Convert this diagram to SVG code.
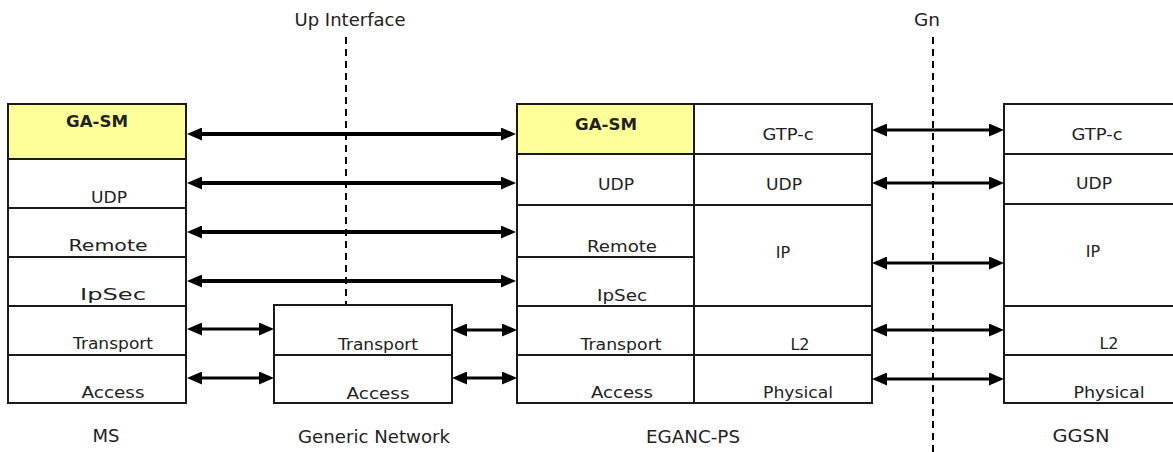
<svg xmlns="http://www.w3.org/2000/svg" width="1173" height="452" viewBox="0 0 1173 452">
<style>
.cell{fill:#fff;stroke:#1a1a1a;stroke-width:2}
.hl{fill:#FFFF99}
.t{font-family:"DejaVu Sans","Liberation Sans",sans-serif;font-size:16px;fill:#222;text-anchor:middle}
.b{font-weight:bold;font-size:15px}
.lbl{font-family:"DejaVu Sans","Liberation Sans",sans-serif;font-size:17px;fill:#222;text-anchor:middle}
.arr{stroke:#000;stroke-width:3;fill:none;marker-start:url(#ah);marker-end:url(#ah)}
.thick{stroke-width:4}
.dash{stroke:#000;stroke-width:2;stroke-dasharray:7 5;fill:none}
</style>
<defs>
<marker id="ah" markerUnits="userSpaceOnUse" markerWidth="15" markerHeight="13" viewBox="0 0 15 13" refX="4" refY="6.5" orient="auto-start-reverse">
<path d="M0,0 L15,6.5 L0,13 z" fill="#000"/>
</marker>
</defs>
<rect width="1173" height="452" fill="#fff"/>

<g id="interfaces">
<line class="dash" x1="346" y1="37" x2="346" y2="305"/>
<line class="dash" x1="933" y1="37" x2="933" y2="452"/>
<text class="lbl" x="350" y="26" textLength="111" lengthAdjust="spacingAndGlyphs">Up Interface</text>
<text class="lbl" x="927" y="26" textLength="26" lengthAdjust="spacingAndGlyphs">Gn</text>
</g>

<g id="ms">
<rect class="cell hl" x="8" y="104" width="178" height="55"/>
<rect class="cell" x="8" y="159" width="178" height="49"/>
<rect class="cell" x="8" y="208" width="178" height="49"/>
<rect class="cell" x="8" y="257" width="178" height="49"/>
<rect class="cell" x="8" y="306" width="178" height="49"/>
<rect class="cell" x="8" y="355" width="178" height="48"/>
<text class="t b" x="97" y="127" textLength="62" lengthAdjust="spacingAndGlyphs">GA-SM</text>
<text class="t" x="109" y="203" textLength="36" lengthAdjust="spacingAndGlyphs">UDP</text>
<text class="t" x="108" y="251" textLength="79" lengthAdjust="spacingAndGlyphs">Remote</text>
<text class="t" x="113" y="300" textLength="66" lengthAdjust="spacingAndGlyphs">IpSec</text>
<text class="t" x="113" y="349" textLength="80" lengthAdjust="spacingAndGlyphs">Transport</text>
<text class="t" x="113" y="398" textLength="63" lengthAdjust="spacingAndGlyphs">Access</text>
<text class="lbl" x="106" y="442" textLength="27" lengthAdjust="spacingAndGlyphs">MS</text>
</g>

<g id="generic-network">
<rect class="cell" x="274" y="305" width="178" height="50"/>
<rect class="cell" x="274" y="355" width="178" height="48"/>
<text class="t" x="378" y="350" textLength="80" lengthAdjust="spacingAndGlyphs">Transport</text>
<text class="t" x="378" y="399" textLength="63" lengthAdjust="spacingAndGlyphs">Access</text>
<text class="lbl" x="374" y="443" textLength="152" lengthAdjust="spacingAndGlyphs">Generic Network</text>
</g>

<g id="eganc-ps">
<rect class="cell hl" x="517" y="104" width="177" height="50"/>
<rect class="cell" x="517" y="154" width="177" height="51"/>
<rect class="cell" x="517" y="205" width="177" height="52"/>
<rect class="cell" x="517" y="257" width="177" height="49"/>
<rect class="cell" x="517" y="306" width="177" height="49"/>
<rect class="cell" x="517" y="355" width="177" height="48"/>
<rect class="cell" x="694" y="104" width="178" height="50"/>
<rect class="cell" x="694" y="154" width="178" height="51"/>
<rect class="cell" x="694" y="205" width="178" height="101"/>
<rect class="cell" x="694" y="306" width="178" height="49"/>
<rect class="cell" x="694" y="355" width="178" height="48"/>
<text class="t b" x="606" y="130" textLength="62" lengthAdjust="spacingAndGlyphs">GA-SM</text>
<text class="t" x="616" y="190" textLength="36" lengthAdjust="spacingAndGlyphs">UDP</text>
<text class="t" x="622" y="252" textLength="70" lengthAdjust="spacingAndGlyphs">Remote</text>
<text class="t" x="622" y="301" textLength="50" lengthAdjust="spacingAndGlyphs">IpSec</text>
<text class="t" x="621" y="350" textLength="81" lengthAdjust="spacingAndGlyphs">Transport</text>
<text class="t" x="622" y="398" textLength="62" lengthAdjust="spacingAndGlyphs">Access</text>
<text class="t" x="788" y="140" textLength="51" lengthAdjust="spacingAndGlyphs">GTP-c</text>
<text class="t" x="784" y="190" textLength="36" lengthAdjust="spacingAndGlyphs">UDP</text>
<text class="t" x="783" y="258">IP</text>
<text class="t" x="800" y="350">L2</text>
<text class="t" x="798" y="398" textLength="70" lengthAdjust="spacingAndGlyphs">Physical</text>
<text class="lbl" x="693" y="443" textLength="94" lengthAdjust="spacingAndGlyphs">EGANC-PS</text>
</g>

<g id="ggsn">
<rect class="cell" x="1004" y="104" width="200" height="50"/>
<rect class="cell" x="1004" y="154" width="200" height="50"/>
<rect class="cell" x="1004" y="204" width="200" height="102"/>
<rect class="cell" x="1004" y="306" width="200" height="49"/>
<rect class="cell" x="1004" y="355" width="200" height="48"/>
<text class="t" x="1097" y="140" textLength="51" lengthAdjust="spacingAndGlyphs">GTP-c</text>
<text class="t" x="1094" y="189" textLength="36" lengthAdjust="spacingAndGlyphs">UDP</text>
<text class="t" x="1093" y="257">IP</text>
<text class="t" x="1109" y="349">L2</text>
<text class="t" x="1109" y="398" textLength="71" lengthAdjust="spacingAndGlyphs">Physical</text>
<text class="lbl" x="1081" y="442" textLength="57" lengthAdjust="spacingAndGlyphs">GGSN</text>
</g>

<g id="connectors">
<line class="arr thick" x1="198" y1="134" x2="505" y2="134"/>
<line class="arr thick" x1="198" y1="183" x2="505" y2="183"/>
<line class="arr thick" x1="198" y1="232" x2="505" y2="232"/>
<line class="arr thick" x1="198" y1="281" x2="505" y2="281"/>
<line class="arr" x1="198" y1="329" x2="263" y2="329"/>
<line class="arr" x1="198" y1="378" x2="263" y2="378"/>
<line class="arr" x1="463" y1="330" x2="506" y2="330"/>
<line class="arr" x1="463" y1="378" x2="506" y2="378"/>
<line class="arr" x1="883" y1="130" x2="993" y2="130"/>
<line class="arr" x1="883" y1="183" x2="993" y2="183"/>
<line class="arr" x1="883" y1="263" x2="993" y2="263"/>
<line class="arr" x1="883" y1="330" x2="993" y2="330"/>
<line class="arr" x1="883" y1="379" x2="993" y2="379"/>
</g>
</svg>
